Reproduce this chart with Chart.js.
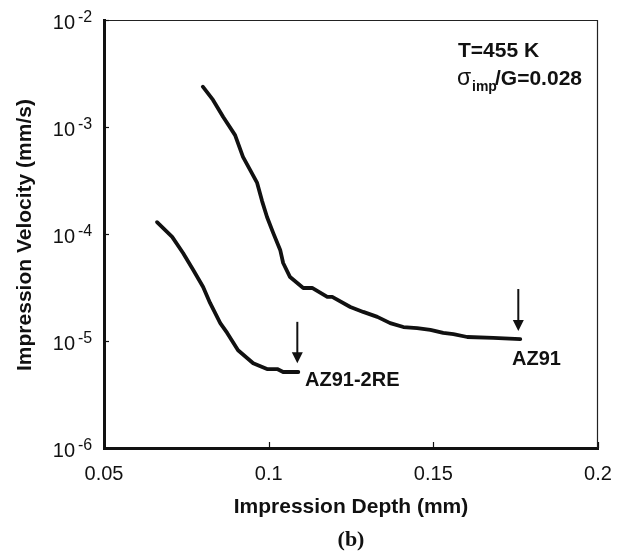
<!DOCTYPE html>
<html>
<head>
<meta charset="utf-8">
<script src="https://cdn.jsdelivr.net/npm/chart.js@4.4.1/dist/chart.umd.min.js"></script>
<style>
  html, body { margin: 0; padding: 0; background: #fff; }
  #wrap { width: 628px; height: 555px; }
</style>
</head>
<body>
<div id="wrap"><canvas id="chart" width="628" height="555"></canvas></div>
<script>
// values
const az91Depth = [0.0800, 0.0831, 0.0862, 0.0898, 0.0922, 0.0944, 0.0965, 0.0980, 0.0995, 0.1014,
  0.1035, 0.1044, 0.1065, 0.1105, 0.1132, 0.1178, 0.1193, 0.1248, 0.1287, 0.1330,
  0.1369, 0.1409, 0.1451, 0.1491, 0.1530, 0.1561, 0.1603, 0.1682, 0.1764];
const az91Velocity = [2.38e-3, 1.79e-3, 1.24e-3, 8.4e-4, 5.25e-4, 3.96e-4, 3.0e-4, 2.03e-4, 1.44e-4, 1.02e-4,
  7.1e-5, 5.36e-5, 3.96e-5, 3.13e-5, 3.13e-5, 2.58e-5, 2.58e-5, 2.08e-5, 1.87e-5, 1.68e-5,
  1.47e-5, 1.35e-5, 1.32e-5, 1.27e-5, 1.19e-5, 1.16e-5, 1.09e-5, 1.07e-5, 1.04e-5];

const re2Depth = [0.0661, 0.0707, 0.0740, 0.0771, 0.0801, 0.0822, 0.0853, 0.0874, 0.0907, 0.0953,
  0.0995, 0.1026, 0.1044, 0.1090];
const re2Velocity = [1.29e-4, 9.4e-5, 6.64e-5, 4.61e-5, 3.2e-5, 2.27e-5, 1.47e-5, 1.19e-5, 8.2e-6, 6.2e-6,
  5.47e-6, 5.47e-6, 5.13e-6, 5.13e-6];

const xTicks = [0.05, 0.1, 0.15, 0.2];
const xTickLabels = ['0.05', '0.1', '0.15', '0.2'];
const yExponents = [-6, -5, -4, -3, -2];

// arrows: [depth, top velocity, tip velocity]
const arrows = [
  [0.1758, 3.06e-5, 1.24e-5],
  [0.1087, 1.51e-5, 6.2e-6],
];

const toPoints = (xs, ys) => xs.map((x, i) => ({ x: x, y: ys[i] }));

const FONT = '"Liberation Sans", Arial, Helvetica, sans-serif';

const decor = {
  id: 'decor',
  afterDraw(chart) {
    const ctx = chart.ctx;
    const area = chart.chartArea;
    const xs = chart.scales.x;
    const ys = chart.scales.y;
    ctx.save();

    // thin top / right frame
    ctx.strokeStyle = '#222';
    ctx.lineWidth = 1.2;
    ctx.beginPath();
    ctx.moveTo(area.left, area.top + 0.5);
    ctx.lineTo(area.right - 0.5, area.top + 0.5);
    ctx.lineTo(area.right - 0.5, area.bottom);
    ctx.stroke();

    // inward tick marks
    ctx.strokeStyle = '#111';
    ctx.lineWidth = 1.2;
    xTicks.forEach((v) => {
      const px = Math.round(xs.getPixelForValue(v)) + 0.5;
      ctx.beginPath();
      ctx.moveTo(px, area.bottom);
      ctx.lineTo(px, area.bottom - 6);
      ctx.stroke();
    });
    yExponents.forEach((e) => {
      const py = Math.round(ys.getPixelForValue(Math.pow(10, e))) + 0.5;
      ctx.beginPath();
      ctx.moveTo(area.left, py);
      ctx.lineTo(area.left + 5, py);
      ctx.stroke();
    });

    ctx.fillStyle = '#111';

    // x tick labels
    ctx.font = '20px ' + FONT;
    ctx.textAlign = 'center';
    ctx.textBaseline = 'alphabetic';
    xTicks.forEach((v, i) => {
      ctx.fillText(xTickLabels[i], xs.getPixelForValue(v), 480);
    });

    // y tick labels, 10 with superscript exponent
    yExponents.forEach((e) => {
      const py = ys.getPixelForValue(Math.pow(10, e));
      ctx.font = '20px ' + FONT;
      ctx.textAlign = 'right';
      ctx.fillText('10', 75, py + 9);
      ctx.font = '16px ' + FONT;
      ctx.textAlign = 'left';
      ctx.fillText('-' + Math.abs(e), 78, py + 2);
    });

    // axis titles
    ctx.font = 'bold 21px ' + FONT;
    ctx.textAlign = 'center';
    ctx.fillText('Impression Depth (mm)', (area.left + area.right) / 2, 513);
    ctx.save();
    ctx.translate(31, 235);
    ctx.rotate(-Math.PI / 2);
    ctx.textBaseline = 'alphabetic';
    ctx.fillText('Impression Velocity (mm/s)', 0, 0);
    ctx.restore();

    ctx.font = 'bold 22px "Liberation Serif", "Times New Roman", serif';
    ctx.fillText('(b)', 351, 546);

    // condition text
    ctx.textAlign = 'left';
    ctx.font = 'bold 21px ' + FONT;
    ctx.fillText('T=455 K', 458, 57);
    ctx.font = '23px ' + FONT;
    ctx.fillText('\u03C3', 457, 85);
    ctx.font = 'bold 14px ' + FONT;
    ctx.fillText('imp', 472, 91);
    ctx.font = 'bold 21px ' + FONT;
    ctx.fillText('/G=0.028', 495, 85);

    // series labels
    ctx.font = 'bold 20px ' + FONT;
    ctx.fillText('AZ91', 512, 365);
    ctx.fillText('AZ91-2RE', 305, 386);

    // arrows
    arrows.forEach((a) => {
      const px = xs.getPixelForValue(a[0]);
      const y0 = ys.getPixelForValue(a[1]);
      const y1 = ys.getPixelForValue(a[2]);
      ctx.strokeStyle = '#111';
      ctx.lineWidth = 2;
      ctx.beginPath();
      ctx.moveTo(px, y0);
      ctx.lineTo(px, y1 - 9);
      ctx.stroke();
      ctx.beginPath();
      ctx.moveTo(px - 5.5, y1 - 11);
      ctx.lineTo(px + 5.5, y1 - 11);
      ctx.lineTo(px, y1);
      ctx.closePath();
      ctx.fill();
    });

    ctx.restore();
  }
};

new Chart(document.getElementById('chart'), {
  type: 'line',
  data: {
    datasets: [
      {
        label: 'AZ91',
        data: toPoints(az91Depth, az91Velocity),
        borderColor: '#111',
        borderWidth: 3.8,
        pointRadius: 0,
        tension: 0,
        fill: false,
        borderJoinStyle: 'round',
        borderCapStyle: 'round',
      },
      {
        label: 'AZ91-2RE',
        data: toPoints(re2Depth, re2Velocity),
        borderColor: '#111',
        borderWidth: 3.8,
        pointRadius: 0,
        tension: 0,
        fill: false,
        borderJoinStyle: 'round',
        borderCapStyle: 'round',
      },
    ],
  },
  options: {
    responsive: false,
    animation: false,
    parsing: false,
    layout: { padding: { top: 20, right: 30, left: 0, bottom: 0 } },
    plugins: { legend: { display: false }, tooltip: { enabled: false } },
    scales: {
      x: {
        type: 'linear',
        min: 0.05,
        max: 0.2,
        ticks: { display: false },
        grid: { display: false },
        border: { display: true, color: '#111', width: 3 },
        afterFit: (scale) => { scale.height = 107; },
      },
      y: {
        type: 'logarithmic',
        min: 1e-6,
        max: 1e-2,
        ticks: { display: false },
        grid: { display: false },
        border: { display: true, color: '#111', width: 3 },
        afterFit: (scale) => { scale.width = 104; },
      },
    },
  },
  plugins: [decor],
});
</script>
</body>
</html>
